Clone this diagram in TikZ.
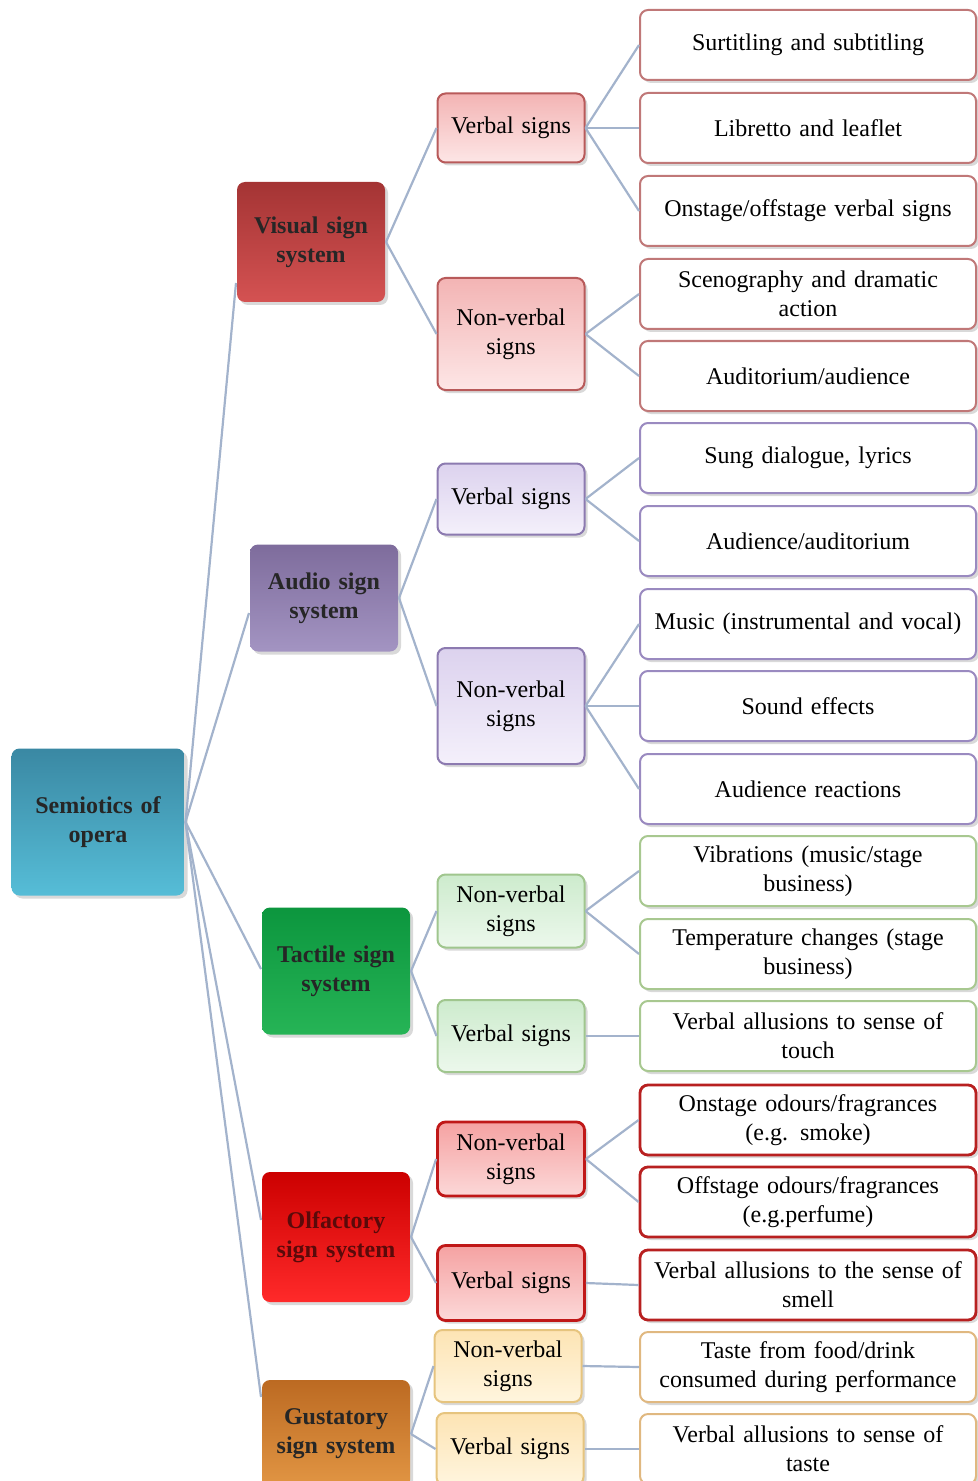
\documentclass[tikz,border=0pt]{standalone}
\usepackage{fontspec}
\setmainfont{Liberation Serif}
\usetikzlibrary{shadows}
\definecolor{linkc}{HTML}{A3B3CC}
\definecolor{rootA}{HTML}{3A88A3}\definecolor{rootB}{HTML}{56BDD7}
\definecolor{visA}{HTML}{A43434}\definecolor{visB}{HTML}{D45252}
\definecolor{audA}{HTML}{7E6C9C}\definecolor{audB}{HTML}{A394C2}
\definecolor{tacA}{HTML}{0C963E}\definecolor{tacB}{HTML}{26B456}
\definecolor{olfA}{HTML}{CC0000}\definecolor{olfB}{HTML}{FF2A2A}
\definecolor{gusA}{HTML}{BC6A22}\definecolor{gusB}{HTML}{E29644}
\definecolor{visD}{HTML}{B85A5A}\definecolor{visT}{HTML}{F3B4B4}\definecolor{visU}{HTML}{FDE6E6}
\definecolor{audD}{HTML}{8C7AB0}\definecolor{audT}{HTML}{DCD2EE}\definecolor{audU}{HTML}{F4F0FB}
\definecolor{tacD}{HTML}{A0C68E}\definecolor{tacT}{HTML}{CDEBCD}\definecolor{tacU}{HTML}{ECF8EC}
\definecolor{olfD}{HTML}{C01818}\definecolor{olfT}{HTML}{F5A2A2}\definecolor{olfU}{HTML}{FCD8D8}
\definecolor{gusD}{HTML}{E6C47E}\definecolor{gusT}{HTML}{FDE4B4}\definecolor{gusU}{HTML}{FFF5DE}
\definecolor{visE}{HTML}{C07878}
\definecolor{audE}{HTML}{9A8AC0}
\definecolor{tacE}{HTML}{A8C890}
\definecolor{olfE}{HTML}{B82020}
\definecolor{gusE}{HTML}{E0B880}
\definecolor{olfText}{HTML}{5A0A0A}
\begin{document}
\begin{tikzpicture}[x=0.5pt,y=-0.5pt,
  box/.style={rounded corners=4pt, align=center, line width=1pt, inner sep=2pt,
    drop shadow={opacity=0.3,shadow xshift=1.5pt,shadow yshift=-1.5pt},
    font=\fontsize{12}{14.5}\selectfont},
  lone/.style={box, draw=none, minimum width=74pt, text width=70pt,
    font=\bfseries\fontsize{12}{14.5}\selectfont, text=black!85},
  ltwo/.style={box, minimum width=73.5pt, text width=68pt},
  lthree/.style={box, fill=white, minimum width=168pt, minimum height=35pt, text width=164pt},
  vistwo/.style={ltwo, draw=visD, top color=visT, bottom color=visU},
  audtwo/.style={ltwo, draw=audD, top color=audT, bottom color=audU},
  tactwo/.style={ltwo, draw=tacD, top color=tacT, bottom color=tacU},
  olftwo/.style={ltwo, line width=1.4pt, draw=olfD, top color=olfT, bottom color=olfU},
  gustwo/.style={ltwo, draw=gusD, top color=gusT, bottom color=gusU},
  visthree/.style={lthree, draw=visE},
  audthree/.style={lthree, draw=audE},
  tacthree/.style={lthree, draw=tacE},
  olfthree/.style={lthree, line width=1.4pt, draw=olfE},
  gusthree/.style={lthree, draw=gusE},
  link/.style={draw=linkc, line width=1.1pt}]
\useasboundingbox (0,0) rectangle (978,1481);
% root
\node[lone, top color=rootA, bottom color=rootB, minimum width=86.5pt, minimum height=73.5pt] (root) at (98,822) {Semiotics of\\opera};
% level 1
\node[lone, top color=visA, bottom color=visB, minimum height=60pt] (vis) at (311,242) {Visual sign\\system};
\node[lone, top color=audA, bottom color=audB, minimum height=53.5pt] (aud) at (324,598) {Audio sign\\system};
\node[lone, top color=tacA, bottom color=tacB, minimum height=63.5pt] (tac) at (336,971) {Tactile sign\\system};
\node[lone, top color=olfA, bottom color=olfB, minimum height=65pt, text=olfText] (olf) at (336,1237) {Olfactory\\sign system};
\node[lone, top color=gusA, bottom color=gusB, minimum height=54pt] (gus) at (336,1434) {Gustatory\\sign system};
% level 2
\node[vistwo, minimum height=34.5pt] (visv) at (511,128) {Verbal signs};
\node[vistwo, minimum height=56pt] (visn) at (511,334) {Non-verbal\\signs};
\node[audtwo, minimum height=35.5pt] (audv) at (511,499) {Verbal signs};
\node[audtwo, minimum height=58pt] (audn) at (511,706) {Non-verbal\\signs};
\node[tactwo, minimum height=36.5pt] (tacn) at (511,911) {Non-verbal\\signs};
\node[tactwo, minimum height=36pt] (tacv) at (511,1036) {Verbal signs};
\node[olftwo, minimum height=37pt] (olfn) at (511,1159) {Non-verbal\\signs};
\node[olftwo, minimum height=37.5pt] (olfv) at (511,1283) {Verbal signs};
\node[gustwo, minimum height=36pt] (gusn) at (508,1366) {Non-verbal\\signs};
\node[gustwo, minimum height=36pt] (gusv) at (510,1449) {Verbal signs};
% level 3
\node[visthree] (a1) at (808,45) {Surtitling and subtitling};
\node[visthree] (a2) at (808,128) {Libretto and leaflet};
\node[visthree] (a3) at (808,211) {Onstage/offstage verbal signs};
\node[visthree] (a4) at (808,294) {Scenography and dramatic\\action};
\node[visthree] (a5) at (808,376) {Auditorium/audience};
\node[audthree] (b1) at (808,458) {Sung dialogue, lyrics};
\node[audthree] (b2) at (808,541) {Audience/auditorium};
\node[audthree] (b3) at (808,624) {Music (instrumental and vocal)};
\node[audthree] (b4) at (808,706) {Sound effects};
\node[audthree] (b5) at (808,789) {Audience reactions};
\node[tacthree] (c1) at (808,871) {Vibrations (music/stage\\business)};
\node[tacthree] (c2) at (808,954) {Temperature changes (stage\\business)};
\node[tacthree] (c3) at (808,1036) {Verbal allusions to sense of\\touch};
\node[olfthree] (d1) at (808,1120) {Onstage odours/fragrances\\(e.g. smoke)};
\node[olfthree] (d2) at (808,1202) {Offstage odours/fragrances\\(e.g.perfume)};
\node[olfthree] (d3) at (808,1285) {Verbal allusions to the sense of\\smell};
\node[gusthree] (e1) at (808,1367) {Taste from food/drink\\consumed during performance};
\node[gusthree] (e2) at (808,1449) {Verbal allusions to sense of\\taste};
% connectors
\foreach \t/\s in {vis/-20.5pt,aud/-7.5pt,tac/1pt,olf/8.5pt,gus/18.5pt}
  \draw[link] (root.east) -- ([yshift=\s]\t.west);
\foreach \p/\c in {vis/visv,vis/visn,aud/audv,aud/audn,tac/tacn,tac/tacv,olf/olfn,olf/olfv,gus/gusn,gus/gusv}
  \draw[link] (\p.east) -- (\c.west);
\foreach \p/\c in {visv/a1,visv/a2,visv/a3,visn/a4,visn/a5,audv/b1,audv/b2,audn/b3,audn/b4,audn/b5,tacn/c1,tacn/c2,tacv/c3,olfn/d1,olfn/d2,olfv/d3,gusn/e1,gusv/e2}
  \draw[link] (\p.east) -- (\c.west);
\end{tikzpicture}
\end{document}
